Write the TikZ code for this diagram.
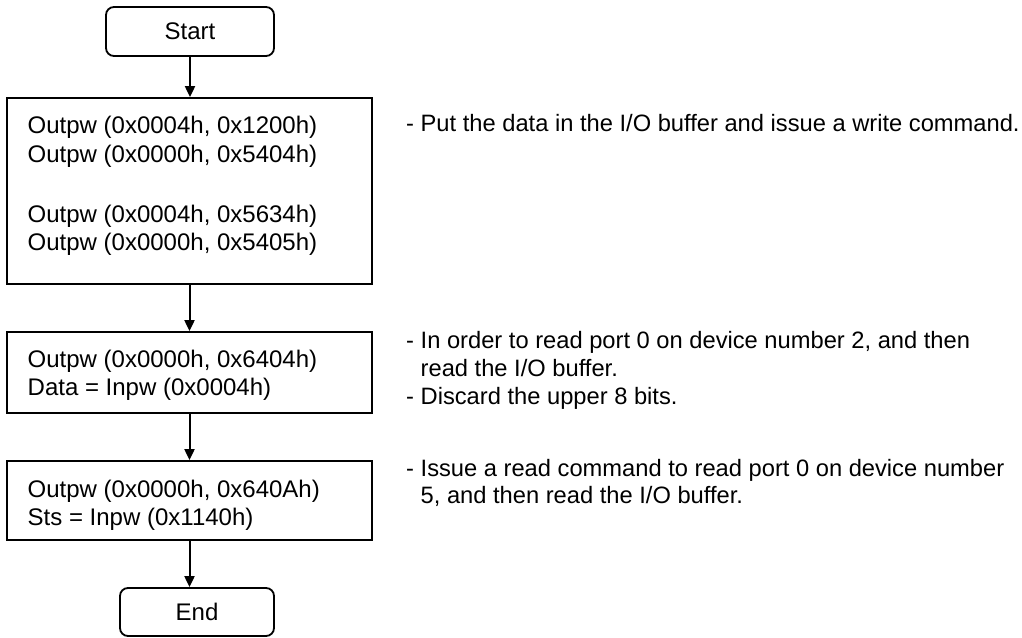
\documentclass[tikz,border=0pt]{standalone}
\usepackage{fontspec}
\setmainfont{Liberation Sans}
\usetikzlibrary{arrows.meta}
\begin{document}
\begin{tikzpicture}[x=1pt,y=-1pt,
  termbox/.style={draw, line width=1.8pt, rounded corners=8pt, inner sep=0pt,
    font=\fontsize{24}{28.5}\selectfont},
  procbox/.style={draw, line width=1.8pt, inner sep=0pt, minimum width=365pt},
  txt/.style={inner sep=0pt, anchor=base west, font=\fontsize{24}{28.5}\selectfont},
  note/.style={inner sep=0pt, anchor=base west, font=\fontsize{23.7}{28.5}\selectfont},
  flow/.style={line width=2pt, -{Triangle[length=11pt,width=10pt]}}]
\useasboundingbox (0,0) rectangle (1022,637);
% terminal and process boxes
\node[termbox, minimum width=168pt, minimum height=49pt] (start) at (190,31.5) {Start};
\node[procbox, minimum height=186pt] (b1) at (189.5,191) {};
\node[procbox, minimum height=81pt] (b2) at (189.5,372.5) {};
\node[procbox, minimum height=79pt] (b3) at (189.5,500.5) {};
\node[termbox, minimum width=154pt, minimum height=48pt] (end) at (197,612) {End};
% connectors
\draw[flow] (start.south) -- (start.south |- b1.north);
\draw[flow] (b1.south) -- (b2.north);
\draw[flow] (b2.south) -- (b3.north);
\draw[flow] (b3.south) -- (b3.south |- end.north);
% box texts
\node[txt] (t1a) at (27.5,133) {Outpw (0x0004h, 0x1200h)};
\node[txt] (t1b) at (27.5,162) {Outpw (0x0000h, 0x5404h)};
\node[txt] (t1c) at (27.5,222) {Outpw (0x0004h, 0x5634h)};
\node[txt] (t1d) at (27.5,250) {Outpw (0x0000h, 0x5405h)};
\node[txt] (t2a) at (27.5,367) {Outpw (0x0000h, 0x6404h)};
\node[txt] (t2b) at (27.5,395) {Data = Inpw (0x0004h)};
\node[txt] (t3a) at (27.5,497) {Outpw (0x0000h, 0x640Ah)};
\node[txt] (t3b) at (27.5,525.5) {Sts = Inpw (0x1140h)};
% comments
\node[note] (c1) at (406,131) {- Put the data in the I/O buffer and issue a write command.};
\node[note] (c2a) at (406,348) {- In order to read port 0 on device number 2, and then};
\node[note] (c2b) at (406,376.5) {\hphantom{-}\ read the I/O buffer.};
\node[note] (c2c) at (406,404.5) {- Discard the upper 8 bits.};
\node[note] (c3a) at (406,476) {- Issue a read command to read port 0 on device number};
\node[note] (c3b) at (406,503.5) {\hphantom{-}\ 5, and then read the I/O buffer.};
\end{tikzpicture}
\end{document}
